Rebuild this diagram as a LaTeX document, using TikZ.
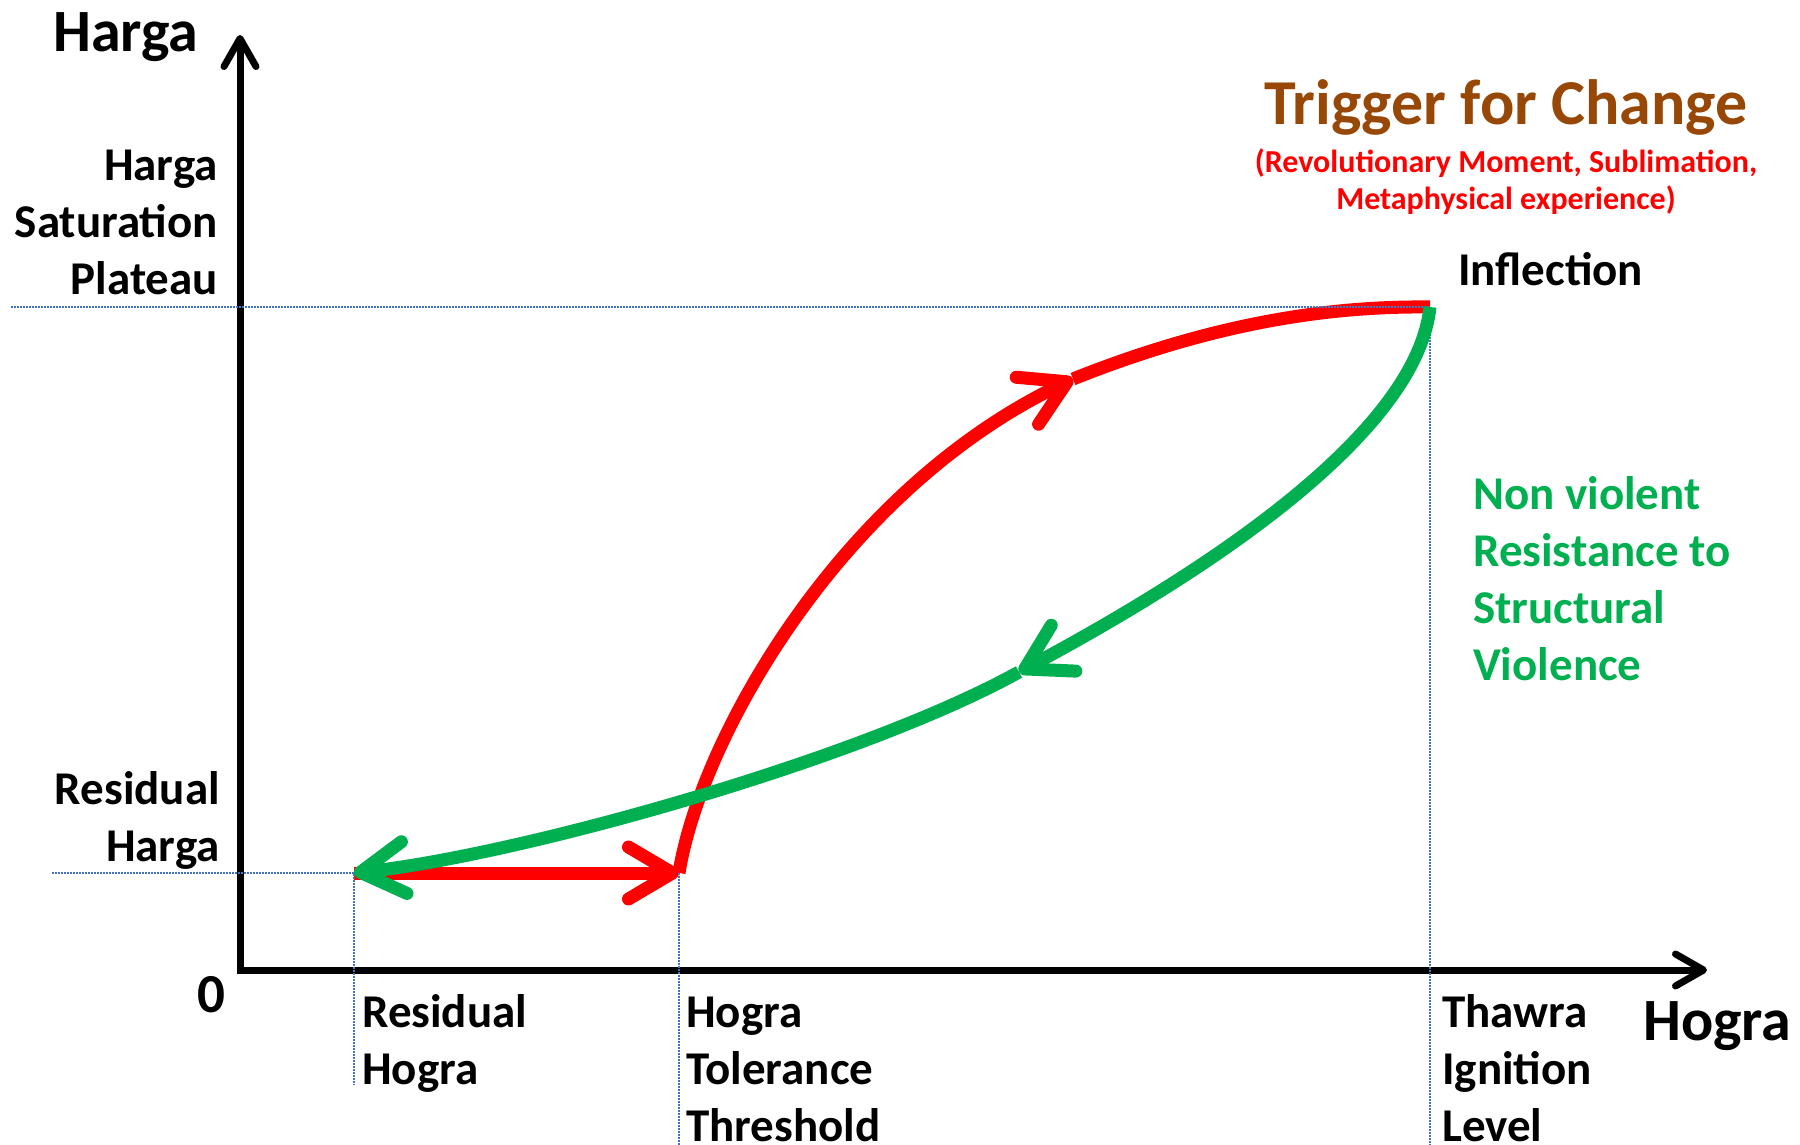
\documentclass[tikz,border=0pt]{standalone}
\usepackage{fontspec}
\setmainfont{Carlito}
\usetikzlibrary{arrows.meta}
\definecolor{hred}{HTML}{FF0000}
\definecolor{hgreen}{HTML}{00B050}
\definecolor{hbrown}{HTML}{984806}
\definecolor{hblue}{HTML}{4472C4}

\begin{document}
\begin{tikzpicture}[x=1pt, y=-1pt,
  lbl/.style={inner sep=0pt, font=\bfseries\fontsize{47}{57}\selectfont},
  big/.style={inner sep=0pt, font=\bfseries\fontsize{60}{70}\selectfont},
  guide/.style={hblue, line width=2pt, dash pattern=on 1.5pt off 1.5pt},
  curve/.style={line width=13pt},
  tip/.style={-{Straight Barb[length=44pt,width=52pt,round]}},
  axtip/.style={{Straight Barb[length=28pt,width=32pt,round]}-{Straight Barb[length=28pt,width=32pt,round]}}
]
\useasboundingbox (0,0) rectangle (1800,1145);
\coordinate (orig) at (240,970);
\coordinate (ytip) at (240,35);
\coordinate (xtip) at (1707,970);
\coordinate (res) at (354,873);
\coordinate (tol) at (679,873);
\coordinate (infl) at (1430,307);
\coordinate (redmid) at (1073,379);
\coordinate (greenmid) at (1019,672);
\coordinate (satl) at (11,307);
\coordinate (resl) at (52,873);
\coordinate (resb) at (354,1085);
\coordinate (tolb) at (679,1145);
\coordinate (inflb) at (1430,1145);

% axes
\draw[line width=7pt, line join=miter, axtip] (ytip) -- (orig) -- (xtip);

% red path up
\draw[curve, hred, tip] (res) -- (tol);
\draw[curve, hred, tip] (tol) .. controls (700,740) and (840,490) .. (redmid);
\draw[curve, hred] (redmid) .. controls (1223,319) and (1340,306) .. (infl);

% guides
\draw[guide] (satl) -- (infl) -- (inflb);
\draw[guide] (resl) -- (res) -- (resb);
\draw[guide] (tol) -- (tolb);

% green path down
\draw[curve, hgreen, tip] (infl) .. controls (1418,420) and (1249,549) .. (greenmid);
\draw[curve, hgreen, tip] (greenmid) .. controls (860,760) and (520,855) .. (res);

% labels (base = last line)
\node[big, anchor=base west] (yname) at (53,52) {Harga};
\node[big, anchor=base west] (xname) at (1643,1040) {Hogra};
\node[inner sep=0pt, font=\bfseries\fontsize{55}{60}\selectfont, anchor=base] (zero) at (211,1012) {0};
\node[lbl, align=right, anchor=base east] (satlbl) at (218,294) {Harga\\Saturation\\Plateau};
\node[lbl, align=right, anchor=base east] (reslbl) at (220,861) {Residual\\Harga};
\node[lbl, anchor=base west] (infllbl) at (1458,285) {Inflection};
\node[lbl, hgreen, align=left, anchor=base west] (nonviol) at (1473,680) {Non violent\\Resistance to\\Structural\\Violence};
\node[lbl, align=left, anchor=base west] (reshogra) at (362,1084) {Residual\\Hogra};
\node[lbl, align=left, anchor=base west] (tollbl) at (686,1141) {Hogra\\Tolerance\\Threshold};
\node[lbl, align=left, anchor=base west] (thawra) at (1442,1141) {Thawra\\Ignition\\Level};
\node[inner sep=0pt, hbrown, font=\bfseries\fontsize{64}{70}\selectfont, anchor=base] (trigger) at (1506,125) {Trigger for Change};
\node[inner sep=0pt, hred, font=\bfseries\fontsize{32}{37}\selectfont, align=center, anchor=base] (triggersub) at (1506,209) {(Revolutionary Moment, Sublimation,\\Metaphysical experience)};
\end{tikzpicture}
\end{document}
